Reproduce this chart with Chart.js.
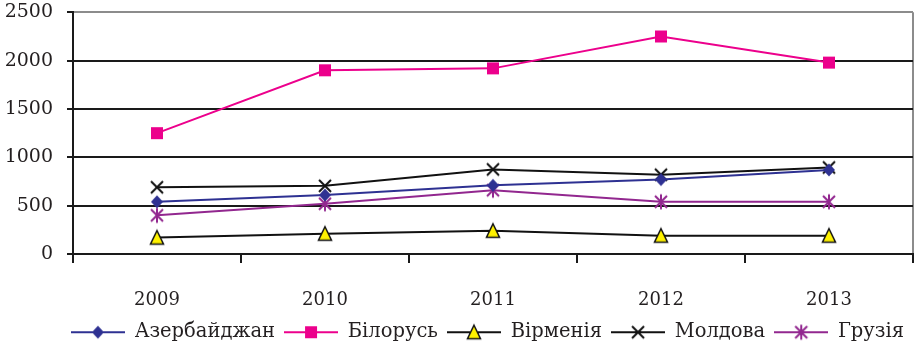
<!DOCTYPE html>
<html>
<head>
<meta charset="utf-8">
<script src="https://cdn.jsdelivr.net/npm/chart.js@4.4.0/dist/chart.umd.min.js"></script>
<style>
  html, body { margin: 0; padding: 0; background: #ffffff; }
  #wrap { width: 914px; height: 346px; position: relative; }
</style>
</head>
<body>
<div id="wrap"><canvas id="c"></canvas></div>
<script>
// Years on the category axis
const years = ['2009', '2010', '2011', '2012', '2013'];

// One series per country
const azerbaijan = [540, 610, 710, 770, 870];
const belarus    = [1250, 1900, 1920, 2250, 1980];
const armenia    = [170, 210, 240, 190, 190];
const moldova    = [690, 705, 875, 820, 895];
const georgia    = [400, 520, 660, 540, 540];

// Value axis ticks
const yTicks = [0, 500, 1000, 1500, 2000, 2500];

const TEXT = '#231F20';
const FONT = 'DejaVu Serif';

// Marker painters, each draws around (0,0)
const painters = {
  diamond(ctx) {
    ctx.fillStyle = '#2E3192';
    ctx.beginPath();
    ctx.moveTo(0, -6.5); ctx.lineTo(6, 0); ctx.lineTo(0, 6.5); ctx.lineTo(-6, 0);
    ctx.closePath(); ctx.fill();
  },
  square(ctx) {
    ctx.fillStyle = '#EC008C';
    ctx.fillRect(-6, -6, 12, 12);
  },
  triangle(ctx) {
    ctx.fillStyle = '#FFF200';
    ctx.strokeStyle = '#111111';
    ctx.lineWidth = 1.5;
    ctx.beginPath();
    ctx.moveTo(0, -7); ctx.lineTo(6.5, 6.5); ctx.lineTo(-6.5, 6.5);
    ctx.closePath(); ctx.fill(); ctx.stroke();
  },
  cross(ctx) {
    ctx.strokeStyle = '#111111';
    ctx.lineWidth = 2;
    ctx.beginPath();
    ctx.moveTo(-6, -6); ctx.lineTo(6, 6);
    ctx.moveTo(-6, 6); ctx.lineTo(6, -6);
    ctx.stroke();
  },
  asterisk(ctx) {
    ctx.strokeStyle = '#92278F';
    ctx.lineWidth = 2;
    ctx.beginPath();
    ctx.moveTo(0, -7.5); ctx.lineTo(0, 7.5);
    ctx.moveTo(-6, -6); ctx.lineTo(6, 6);
    ctx.moveTo(-6, 6); ctx.lineTo(6, -6);
    ctx.stroke();
  }
};

function markerCanvas(kind) {
  const cv = document.createElement('canvas');
  cv.width = 20; cv.height = 20;
  const ctx = cv.getContext('2d');
  ctx.translate(10, 10);
  painters[kind](ctx);
  return cv;
}

function legendIcon(kind, lineColor) {
  const cv = document.createElement('canvas');
  cv.width = 54; cv.height = 20;
  const ctx = cv.getContext('2d');
  ctx.strokeStyle = lineColor;
  ctx.lineWidth = 2;
  ctx.beginPath(); ctx.moveTo(0, 10); ctx.lineTo(54, 10); ctx.stroke();
  ctx.translate(27, 10);
  painters[kind](ctx);
  return cv;
}

const series = [
  { label: 'Азербайджан', data: azerbaijan, color: '#2E3192', marker: 'diamond' },
  { label: 'Білорусь',    data: belarus,    color: '#EC008C', marker: 'square' },
  { label: 'Вірменія',    data: armenia,    color: '#111111', marker: 'triangle' },
  { label: 'Молдова',     data: moldova,    color: '#111111', marker: 'cross' },
  { label: 'Грузія',      data: georgia,    color: '#92278F', marker: 'asterisk' }
];

const icons = series.map(s => legendIcon(s.marker, s.color));

new Chart(document.getElementById('c'), {
  type: 'line',
  data: {
    labels: years,
    datasets: series.map(s => ({
      label: s.label,
      data: s.data,
      borderColor: s.color,
      backgroundColor: s.color,
      borderWidth: 2,
      pointStyle: markerCanvas(s.marker),
      pointRadius: 7,
      tension: 0,
      fill: false
    }))
  },
  options: {
    responsive: true,
    maintainAspectRatio: false,
    animation: false,
    devicePixelRatio: 1,
    layout: { autoPadding: false, padding: { left: 4, right: 1, top: 0, bottom: -6 } },
    plugins: {
      tooltip: { enabled: false },
      legend: {
        position: 'bottom',
        fullSize: true,
        align: 'end',
        labels: {
          usePointStyle: true,
          pointStyleWidth: 54,
          padding: 9,
          color: TEXT,
          font: { family: FONT, size: 19.5 },
          generateLabels: chart => chart.data.datasets.map((ds, i) => ({
            text: ds.label,
            pointStyle: icons[i],
            fillStyle: 'rgba(0,0,0,0)',
            strokeStyle: 'rgba(0,0,0,0)',
            lineWidth: 0,
            hidden: false,
            datasetIndex: i,
            fontColor: TEXT
          }))
        }
      }
    },
    scales: {
      x: {
        type: 'category',
        offset: true,
        afterFit: axis => {
          axis.height = 59.5;
          axis.paddingLeft = 0;
          axis.paddingRight = 0;
        },
        grid: {
          offset: true,
          drawOnChartArea: true,
          color: ctx => ctx.type === 'tick' ? 'rgba(0,0,0,0)' : '#8c8c8c',
          tickColor: '#1a1a1a',
          tickLength: 9,
          lineWidth: 2
        },
        border: { color: '#1a1a1a', width: 2 },
        ticks: {
          color: TEXT,
          padding: 27,
          maxRotation: 0,
          font: { family: FONT, size: 18 }
        }
      },
      y: {
        min: 0,
        max: 2500,
        afterBuildTicks: axis => { axis.ticks = yTicks.map(v => ({ value: v })); },
        afterFit: axis => {
          axis.width = 69;
          axis.paddingTop = 12.3;
          axis.paddingBottom = 0;
        },
        grid: {
          color: ctx => (ctx.tick && ctx.tick.value === 2500) ? '#8c8c8c' : '#1a1a1a',
          tickColor: '#1a1a1a',
          tickLength: 6,
          lineWidth: 2
        },
        border: { color: '#1a1a1a', width: 2 },
        ticks: {
          color: TEXT,
          padding: 14,
          callback: v => String(v),
          font: { family: FONT, size: 19 }
        }
      }
    }
  }
});
</script>
</body>
</html>
